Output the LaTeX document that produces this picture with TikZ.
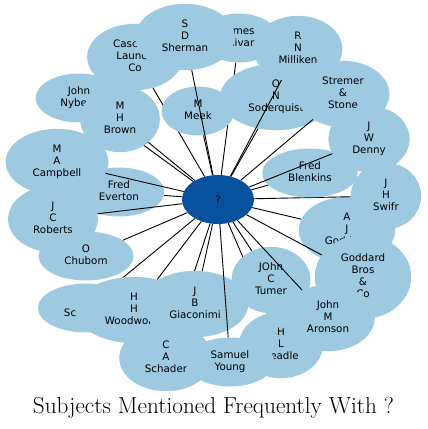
\documentclass[tikz,border=0pt]{standalone}
\usepackage{fontspec}
\usetikzlibrary{shapes.geometric}
\newfontfamily\dvs{DejaVu Sans}
\definecolor{lb}{HTML}{9ECAE1}
\definecolor{db}{HTML}{08519C}
\tikzset{
  bub/.style={ellipse, fill=lb, inner xsep=12pt, inner ysep=5pt, align=center,
    font=\dvs\fontsize{10.3}{12.3}\selectfont},
  hub/.style={ellipse, fill=db, inner sep=0pt, minimum width=72pt, minimum height=49pt,
    font=\dvs\fontsize{10.3}{12.3}\selectfont},
  edge/.style={draw=black, line width=0.9pt}
}
\begin{document}
\begin{tikzpicture}[x=1pt,y=-1pt]
\useasboundingbox (0,0) rectangle (428,429);
\node[hub] (c) at (218,199.5) {?};
\node[bub] (sc) at (86,308) {\strut\\\strut Sc\hspace*{31.8pt}};
\draw[edge] (c) -- (sc);
\node[bub] (woodworth) at (134,310) {\strut H\\\strut H\\\strut Woodworth};
\draw[edge] (c) -- (woodworth);
\node[bub] (schader) at (166,358) {\strut C\\\strut A\\\strut Schader};
\draw[edge] (c) -- (schader);
\node[bub] (giaconimi) at (195,304) {\strut J\\\strut B\\\strut Giaconimi};
\draw[edge] (c) -- (giaconimi);
\node[bub] (beadle) at (281,345) {\strut H\\\strut L\\\strut Beadle};
\draw[edge] (c) -- (beadle);
\node[bub] (young) at (230,362) {\strut Samuel\\\strut Young};
\draw[edge] (c) -- (young);
\node[bub] (turner) at (271,280) {\strut JOhn\\\strut C\\\strut Tumer};
\draw[edge] (c) -- (turner);
\node[bub] (aj) at (347,230) {\strut A\\\strut J\\\strut Goddard};
\draw[edge] (c) -- (aj);
\node[bub] (goddardbros) at (363,277) {\strut Goddard\\\strut Bros\\\strut \&\\\strut Co};
\draw[edge] (c) -- (goddardbros);
\node[bub] (aronson) at (328,318) {\strut John\\\strut M\\\strut Aronson};
\draw[edge] (c) -- (aronson);
\node[bub] (swift) at (386,196) {\strut J\\\strut H\\\strut Swifr};
\draw[edge] (c) -- (swift);
\node[bub] (james) at (239,38) {\strut James\\\strut Olivar};
\draw[edge] (c) -- (james);
\node[bub] (cascade) at (135,57) {\strut Cascade\\\strut Launch\\\strut Co};
\draw[edge] (c) -- (cascade);
\node[bub] (meek) at (198,111) {\strut M\\\strut Meek};
\draw[edge] (c) -- (meek);
\node[bub] (sherman) at (185,37) {\strut S\\\strut D\\\strut Sherman};
\draw[edge] (c) -- (sherman);
\node[bub] (soderquist) at (276,97) {\strut O\\\strut N\\\strut Soderquist};
\draw[edge] (c) -- (soderquist);
\node[bub] (milliken) at (298,49) {\strut R\\\strut N\\\strut Milliken};
\draw[edge] (c) -- (milliken);
\node[bub] (stremer) at (343,94) {\strut Stremer\\\strut \&\\\strut Stone};
\draw[edge] (c) -- (stremer);
\node[bub] (blenkins) at (310,173) {\strut Fred\\\strut Blenkins};
\draw[edge] (c) -- (blenkins);
\node[bub] (denny) at (369,139) {\strut J\\\strut W\\\strut Denny};
\draw[edge] (c) -- (denny);
\node[bub] (nyberg) at (79,98) {\strut John\\\strut Nyberg};
\draw[edge] (c) -- (nyberg);
\node[bub] (brown) at (120,119) {\strut M\\\strut H\\\strut Brown};
\draw[edge] (c) -- (brown);
\node[bub] (everton) at (119,192) {\strut Fred\\\strut Everton};
\draw[edge] (c) -- (everton);
\node[bub] (campbell) at (57,162) {\strut M\\\strut A\\\strut Campbell};
\draw[edge] (c) -- (campbell);
\node[bub] (roberts) at (53,219) {\strut J\\\strut C\\\strut Roberts};
\draw[edge] (c) -- (roberts);
\node[bub] (chubom) at (86,256) {\strut O\\\strut Chubom};
\draw[edge] (c) -- (chubom);
\node[anchor=base, font=\fontsize{23.2}{27}\selectfont] (title) at (213.5,413) {Subjects Mentioned Frequently With ?};
\end{tikzpicture}
\end{document}
